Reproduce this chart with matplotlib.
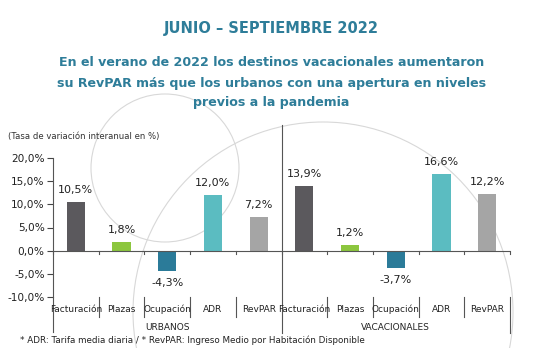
import numpy as np
import matplotlib
matplotlib.use("Agg")
import matplotlib.pyplot as plt
from matplotlib.patches import Ellipse

plt.rcParams['font.family'] = ['DejaVu Sans']

# ---------------- data ----------------
categorias = ['Facturación', 'Plazas', 'Ocupación', 'ADR', 'RevPAR']
grupos = ['URBANOS', 'VACACIONALES']
urbanos = [10.5, 1.8, -4.3, 12.0, 7.2]
vacacionales = [13.9, 1.2, -3.7, 16.6, 12.2]
colores = ['#5b595d', '#8cc63e', '#2b7b99', '#5bbcc1', '#a5a5a5']
yticks = [-10, -5, 0, 5, 10, 15, 20]

W, H = 543, 348
TITLE_C = '#2e7d99'

fig = plt.figure(figsize=(W / 100, H / 100), dpi=100)

def fx(px):
    return px / W

def fy(py):
    return 1 - py / H

# decorative circles in the background
for cx, cy, r in [(165, 168, 74), (323, 312, 190)]:
    fig.add_artist(Ellipse((fx(cx), fy(cy)), 2 * r / W, 2 * r / H,
                           fill=False, edgecolor='#d8d8d8', lw=0.8, zorder=0))

# titles
fig.text(0.5, fy(28), 'JUNIO – SEPTIEMBRE 2022', ha='center', va='center',
         fontsize=10.5, fontweight='bold', color=TITLE_C)
subtitulo = ['En el verano de 2022 los destinos vacacionales aumentaron',
             'su RevPAR más que los urbanos con una apertura en niveles',
             'previos a la pandemia']
for i, linea in enumerate(subtitulo):
    fig.text(0.5, fy(63 + 20 * i), linea, ha='center', va='center',
             fontsize=9.1, fontweight='bold', color=TITLE_C)

fig.text(fx(8), fy(137), '(Tasa de variación interanual en %)', ha='left',
         va='center', fontsize=6.1, color='#333333')

# ---------------- axes ----------------
x0, x1 = 53, 510
ytop, ybot = 158, 297
ax = fig.add_axes([fx(x0), fy(ybot), fx(x1 - x0), (ybot - ytop) / H])
ax.patch.set_visible(False)

valores = urbanos + vacacionales
pos = np.arange(len(valores))
ax.bar(pos, valores, width=0.4, color=colores * 2, zorder=3)
ax.set_xlim(-0.5, len(valores) - 0.5)
ax.set_ylim(-10, 20)
ax.set_yticks(yticks)
ax.set_yticklabels([f'{v:.1f}%'.replace('.', ',') for v in yticks],
                   fontsize=7.6, color='#222222')
ax.tick_params(axis='y', length=4, color='#444444', pad=2)
ax.set_xticks([])
for s in ['top', 'right', 'bottom']:
    ax.spines[s].set_visible(False)
ax.spines['left'].set_color('#555555')
ax.spines['left'].set_linewidth(0.8)
ax.axhline(0, color='#555555', lw=0.8, zorder=4)

# small ticks below zero line at category boundaries
for b in np.arange(-0.5, len(valores), 1.0):
    ax.plot([b, b], [0, -0.8], color='#555555', lw=0.8, clip_on=False)

# data labels
for p, v in zip(pos, valores):
    txt = f'{v:.1f}%'.replace('.', ',')
    if v >= 0:
        ax.text(p, v + 1.5, txt, ha='center', va='bottom', fontsize=8, color='#222222')
    else:
        ax.text(p, v - 1.6, txt, ha='center', va='top', fontsize=8, color='#222222')

# category labels and separators (axes-x, pixel-y)
trans = ax.get_xaxis_transform()
def ay(py):
    return (ybot - py) / (ybot - ytop)

for p, c in zip(pos, categorias * 2):
    ax.text(p, ay(309), c, transform=trans, ha='center', va='center',
            fontsize=6.5, color='#222222')
for b in np.arange(0.5, len(valores) - 0.5, 1.0):
    if b == 4.5:
        continue
    ax.plot([b, b], [ay(297), ay(317)], transform=trans, color='#555555',
            lw=0.8, clip_on=False)
# left spine extension, group separator and right end line
ax.plot([-0.5, -0.5], [0, ay(332)], transform=trans, color='#555555', lw=0.8, clip_on=False)
ax.plot([4.5, 4.5], [ay(125), ay(333)], transform=trans, color='#555555', lw=0.8, clip_on=False)
ax.plot([9.5, 9.5], [ay(297), ay(333)], transform=trans, color='#555555', lw=0.8, clip_on=False)

for g, centro in zip(grupos, [2, 7]):
    ax.text(centro, ay(327), g, transform=trans, ha='center', va='center',
            fontsize=6.5, color='#222222')

fig.text(fx(20), fy(340), '* ADR: Tarifa media diaria / * RevPAR: Ingreso Medio por Habitación Disponible',
         ha='left', va='center', fontsize=6.3, color='#222222')

fig.savefig('out.png', dpi=100)
